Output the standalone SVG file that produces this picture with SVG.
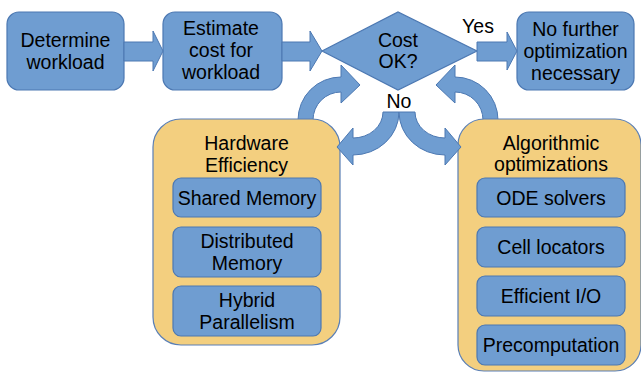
<svg xmlns="http://www.w3.org/2000/svg" width="641" height="372" viewBox="0 0 641 372">
<style>
.b{fill:#6f9dd1;stroke:#4c78b2;stroke-width:1.2}
.y{fill:#f3cf7f;stroke:#5a7fb5;stroke-width:1.2}
.a{fill:#6f9dd1;stroke:#4c78b2;stroke-width:1}
text{font-family:"Liberation Sans",Arial,sans-serif;font-size:19.5px;fill:#000;text-anchor:middle}
</style>
<rect width="641" height="372" fill="#fff"/>
<g id="connectors-back">
<path class="a" d="M298,128 L298,120 A43,43 0 0 1 341,77 L341,65 L360,85 L341,103 L341,92 A28,28 0 0 0 313,120 L313,128 Z"/>
<path class="a" d="M498,130 L498,120 A43,43 0 0 0 455,77 L455,65 L436,85 L455,103 L455,92 A28,28 0 0 1 483,120 L483,130 Z"/>
</g>
<g id="n1"><rect class="b" x="7" y="12" width="117" height="78" rx="12"/>
<text x="65.5" y="47">Determine</text><text x="65.5" y="69">workload</text></g>
<g id="n2"><rect class="b" x="163" y="12" width="119" height="78" rx="12"/>
<text x="221" y="35">Estimate</text><text x="221" y="57">cost for</text><text x="221" y="79">workload</text></g>
<g id="n3"><polygon class="b" points="322,51 398,12 477,51 398,90"/>
<text x="398" y="47">Cost</text><text x="398" y="68">OK?</text></g>
<g id="n4"><rect class="b" x="517" y="12" width="117" height="78" rx="12"/>
<text x="575.5" y="36">No further</text><text x="575.5" y="58">optimization</text><text x="575.5" y="80">necessary</text></g>
<g id="n5"><rect class="y" x="153" y="119" width="187" height="226" rx="28"/>
<text x="246.5" y="150">Hardware</text><text x="246.5" y="172">Efficiency</text></g>
<g id="n5a"><rect class="b" x="173" y="178" width="148" height="39" rx="8"/><text x="247" y="205">Shared Memory</text></g>
<g id="n5b"><rect class="b" x="173" y="227" width="148" height="50" rx="8"/><text x="247" y="248">Distributed</text><text x="247" y="270">Memory</text></g>
<g id="n5c"><rect class="b" x="173" y="286" width="148" height="50" rx="8"/><text x="247" y="307">Hybrid</text><text x="247" y="329">Parallelism</text></g>
<g id="n6"><rect class="y" x="458" y="119" width="183" height="252" rx="26"/>
<text x="551" y="150">Algorithmic</text><text x="551" y="171">optimizations</text></g>
<g id="n6a"><rect class="b" x="477" y="178" width="148" height="39" rx="8"/><text x="551" y="205">ODE solvers</text></g>
<g id="n6b"><rect class="b" x="477" y="227" width="148" height="40" rx="8"/><text x="551" y="254">Cell locators</text></g>
<g id="n6c"><rect class="b" x="477" y="276" width="148" height="40" rx="8"/><text x="551" y="303">Efficient I/O</text></g>
<g id="n6d"><rect class="b" x="477" y="325" width="148" height="40" rx="8"/><text x="551" y="352">Precomputation</text></g>
<g id="connectors">
<polygon class="a" points="124,42 153,42 153,31 163,51 153,71 153,61 124,61"/>
<polygon class="a" points="282,42 310,42 310,31 322,51 310,71 310,61 282,61"/>
<polygon class="a" points="477,42 507,42 507,32 517,51 507,70 507,61 477,61"/>
<path class="a" d="M383,112 L399,112 A46,43 0 0 1 353,155 L353,165 L337,147 L353,128 L353,138 A30,26 0 0 0 383,112 Z"/>
<path class="a" d="M415,112 L399,112 A46,43 0 0 0 445,155 L445,165 L461,147 L445,128 L445,138 A30,26 0 0 1 415,112 Z"/>
<text x="478" y="33">Yes</text>
<text x="399" y="108">No</text>
</g>
</svg>
